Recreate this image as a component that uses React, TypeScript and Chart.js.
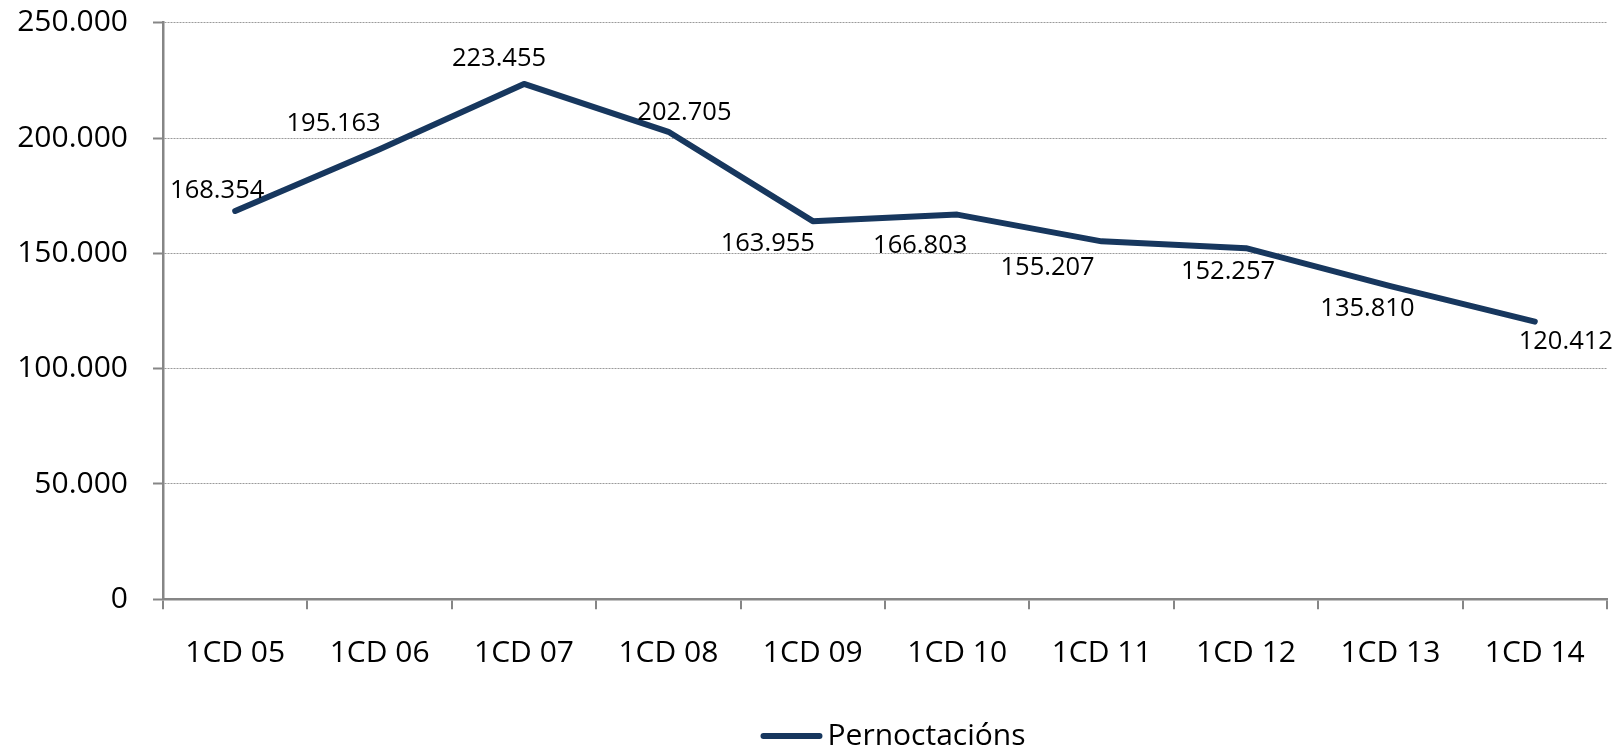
import React, { useEffect, useRef } from 'react';
import { Chart, registerables } from 'chart.js';

Chart.register(...registerables);

// ---- data ----
const categories = ['1CD 05', '1CD 06', '1CD 07', '1CD 08', '1CD 09', '1CD 10', '1CD 11', '1CD 12', '1CD 13', '1CD 14'];
const pernoctacions = [168354, 195163, 223455, 202705, 163955, 166803, 155207, 152257, 135810, 120412];
const yTicks = [0, 50000, 100000, 150000, 200000, 250000];
const seriesLabel = 'Pernoctacións';

// ---- style: label offsets (px) of each label's centre relative to its point ----
const labelOffsets: [number, number][] = [
  [-18, -22], [-46, -27], [-25, -27], [16, -21], [-45, 21],
  [-37, 29], [-54, 25], [-18, 22], [-23, 21], [31, 18],
];

const FONT = '"Open Sans", "Noto Sans", sans-serif';
const LINE = '#17375E';
const AXIS = '#868686';

const fmt = (v: number) => Math.round(v).toString().replace(/\B(?=(\d{3})+(?!\d))/g, '.');

const dataLabels = {
  id: 'dataLabels',
  afterDatasetsDraw(chart: any) {
    const ctx = chart.ctx;
    const meta = chart.getDatasetMeta(0);
    const size = 25.5;
    ctx.save();
    ctx.font = `${size}px ${FONT}`;
    ctx.fillStyle = '#000';
    ctx.textAlign = 'center';
    ctx.textBaseline = 'alphabetic';
    meta.data.forEach((pt: any, i: number) => {
      const [dx, dy] = labelOffsets[i];
      ctx.fillText(fmt(pernoctacions[i]), pt.x + dx, pt.y + dy + size * 0.357);
    });
    ctx.restore();
  },
};

// Legend drawn below the plot, centred (slightly right of) the plot area
const bottomLegend = {
  id: 'bottomLegend',
  afterDraw(chart: any) {
    const ctx = chart.ctx;
    const area = chart.chartArea;
    const ds = chart.data.datasets[0];
    ctx.save();
    ctx.font = `30px ${FONT}`;
    const tw = ctx.measureText(ds.label).width;
    const lineLen = 56;
    const cap = 3;
    const gap = 8;
    const total = cap + lineLen + gap + tw;
    const cx = (area.left + area.right) / 2 + 8;
    const start = cx - total / 2 + cap;
    const y = 736;
    ctx.strokeStyle = ds.borderColor;
    ctx.lineWidth = 6;
    ctx.lineCap = 'round';
    ctx.beginPath();
    ctx.moveTo(start, y);
    ctx.lineTo(start + lineLen, y);
    ctx.stroke();
    ctx.fillStyle = '#000';
    ctx.textAlign = 'left';
    ctx.textBaseline = 'alphabetic';
    ctx.fillText(ds.label, start + lineLen + gap, 745);
    ctx.restore();
  },
};

export default function App() {
  const ref = useRef<HTMLCanvasElement>(null);

  useEffect(() => {
    if (!ref.current) return;
    const chart = new Chart(ref.current, {
      type: 'line',
      data: {
        labels: categories,
        datasets: [
          {
            label: seriesLabel,
            data: pernoctacions,
            borderColor: LINE,
            backgroundColor: LINE,
            borderWidth: 6,
            borderCapStyle: 'round',
            borderJoinStyle: 'round',
            pointRadius: 0,
            pointHoverRadius: 0,
            tension: 0,
            fill: false,
          },
        ],
      },
      options: {
        animation: false,
        responsive: false,
        maintainAspectRatio: false,
        events: [],
        layout: { padding: { top: 22.7, right: 16, left: 0, bottom: 39 } },
        plugins: {
          tooltip: { enabled: false },
          legend: { display: false },
        },
        scales: {
          x: {
            offset: true,
            grid: { offset: true, drawOnChartArea: false, color: AXIS, lineWidth: 2, tickLength: 10 },
            border: { color: AXIS, width: 2.5 },
            ticks: { color: '#000', font: { family: FONT, size: 30 }, padding: 26, maxRotation: 0, autoSkip: false },
            afterFit: (s: any) => { s.height = 109.7; },
          },
          y: {
            min: yTicks[0],
            max: yTicks[yTicks.length - 1],
            ticks: {
              stepSize: yTicks[1] - yTicks[0],
              callback: (v: any) => fmt(Number(v)),
              color: '#000',
              font: { family: FONT, size: 30 },
              padding: 25,
            },
            grid: { color: '#9a9a9a', lineWidth: 1, tickLength: 10, tickColor: AXIS, tickWidth: 2, tickBorderDash: [] },
            border: { color: AXIS, width: 2.5, dash: [2, 1] },
            afterFit: (s: any) => { s.width = 163; s.paddingTop = 0; s.paddingBottom = 0; },
          },
        },
      } as any,
      plugins: [dataLabels, bottomLegend],
    });
    return () => chart.destroy();
  }, []);

  return (
    <div style={{ position: 'fixed', left: 0, top: 0, width: 1623, height: 748, overflow: 'hidden', background: '#fff' }}>
      <canvas ref={ref} width={1623} height={748} style={{ display: 'block', width: 1623, height: 748 }} />
    </div>
  );
}
